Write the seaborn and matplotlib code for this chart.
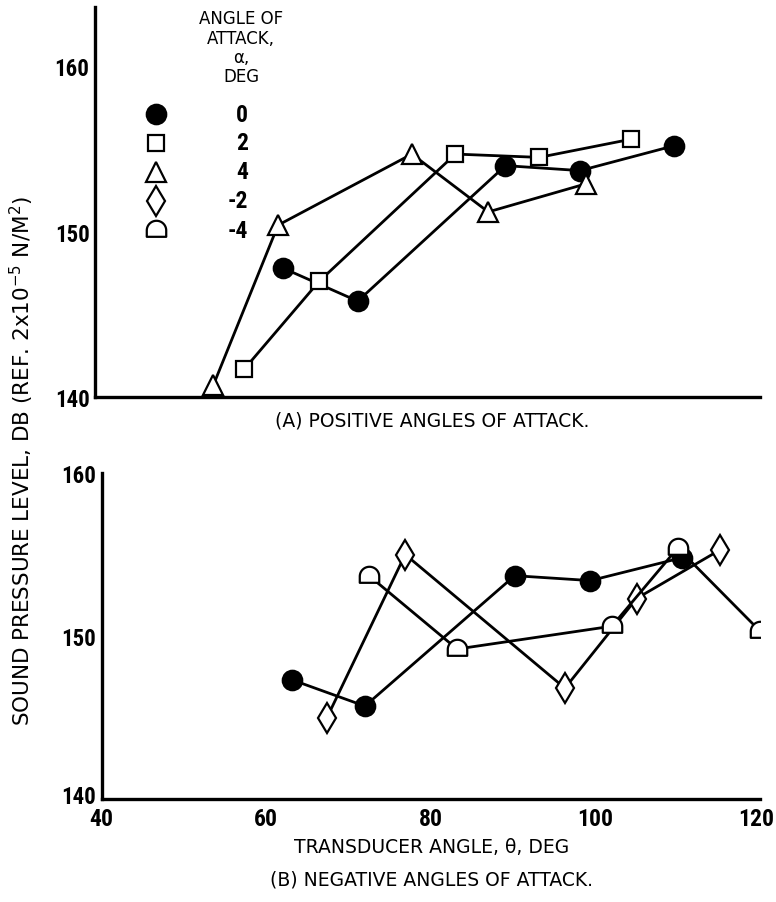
import numpy as np
import pandas as pd
import matplotlib
matplotlib.use("Agg")
import matplotlib.pyplot as plt
from matplotlib.path import Path
from matplotlib.transforms import ScaledTranslation
import seaborn as sns

# ---- data -------------------------------------------------------------
# (a) positive angles of attack
pos_a0_theta = [62.1, 71.2, 89.2, 98.3, 109.7]
pos_a0_spl = [147.8, 145.8, 154.0, 153.7, 155.2]
pos_a2_theta = [57.4, 66.5, 83.1, 93.3, 104.5]
pos_a2_spl = [141.7, 147.0, 154.7, 154.5, 155.6]
pos_a4_theta = [53.6, 61.5, 77.8, 87.1, 99.0]
pos_a4_spl = [140.7, 150.4, 154.7, 151.2, 152.9]

# (b) negative angles of attack
neg_a0_theta = [63.2, 72.0, 90.2, 99.4, 110.5]
neg_a0_spl = [147.3, 145.7, 153.7, 153.4, 154.8]
neg_am2_theta = [67.4, 76.9, 96.3, 105.0, 115.2]
neg_am2_spl = [145.0, 155.0, 146.8, 152.3, 155.3]
neg_am4_theta = [72.5, 83.2, 102.0, 110.0, 120.0]
neg_am4_spl = [153.7, 149.2, 150.6, 155.4, 150.3]

legend_labels = ["0", "2", "4", "-2", "-4"]
x_ticks = [40, 60, 80, 100, 120]
y_ticks = [140, 150, 160]

# ---- style ------------------------------------------------------------
sns.set_theme(style="white")
DIGITS = ["Roboto Condensed", "DejaVu Sans Condensed", "Roboto",
          "DejaVu Sans"]
WORDS = ["DejaVu Sans"]
plt.rcParams["font.family"] = DIGITS
plt.rcParams["font.weight"] = "bold"
plt.rcParams["mathtext.default"] = "regular"
for key in ["text.color", "axes.labelcolor", "xtick.color", "ytick.color",
            "xtick.labelcolor", "ytick.labelcolor"]:
    plt.rcParams[key] = "black"

W, H = 776, 903
fig = plt.figure(figsize=(W / 100, H / 100), dpi=100)


def fx(px):
    return px / W


def fy(py):
    return 1 - py / H


def shift(label, dx_px, dy_px):
    label.set_transform(label.get_transform() + ScaledTranslation(
        dx_px / 100, dy_px / 100, fig.dpi_scale_trans))


# dome marker: rounded top, flat bottom
t = np.linspace(0, np.pi, 40)
dome_verts = np.column_stack([np.cos(t), np.sin(t)]).tolist()
dome_verts += [[-1, -0.65], [1, -0.65], [1, 0]]
dome = Path(dome_verts, closed=True)

LW = 2.0
MEW = 1.6
styles = {
    "0": dict(marker="o", markersize=14, markerfacecolor="black"),
    "2": dict(marker="s", markersize=12, markerfacecolor="white"),
    "4": dict(marker="^", markersize=15, markerfacecolor="white"),
    "-2": dict(marker="d", markersize=15, markerfacecolor="white"),
    "-4": dict(marker=dome, markersize=14, markerfacecolor="white"),
}


def draw(ax, theta, spl, key):
    df = pd.DataFrame({"theta": theta, "spl": spl})
    sns.lineplot(data=df, x="theta", y="spl", ax=ax, sort=False,
                 estimator=None, color="black", linewidth=LW,
                 markeredgecolor="black", markeredgewidth=MEW,
                 **styles[key])


def style_axes(ax):
    for side in ["top", "right"]:
        ax.spines[side].set_visible(False)
    for side in ["left", "bottom"]:
        ax.spines[side].set_linewidth(2.4)
        ax.spines[side].set_color("black")
    ax.tick_params(axis="both", direction="in", width=2.2, color="black",
                   labelcolor="black")
    ax.tick_params(axis="y", length=21, labelsize=16.5, pad=4)
    ax.set_xlabel("")
    ax.set_ylabel("")
    ax.set_yticks(y_ticks)


# ---- top panel ---------------------------------------------------------
ax1 = fig.add_axes([fx(95), fy(398), fx(760) - fx(95), fy(8) - fy(398)])
draw(ax1, pos_a0_theta, pos_a0_spl, "0")
draw(ax1, pos_a2_theta, pos_a2_spl, "2")
draw(ax1, pos_a4_theta, pos_a4_spl, "4")
ax1.set_xlim(39.2, 120.2)
ax1.set_ylim(140, 163.6)
style_axes(ax1)
ax1.set_xticks([60, 80, 100, 120])
ax1.tick_params(axis="x", length=20, labelbottom=False)

# ---- bottom panel ------------------------------------------------------
ax2 = fig.add_axes([fx(101.5), fy(800), fx(760) - fx(101.5), fy(474) - fy(800)])
draw(ax2, neg_a0_theta, neg_a0_spl, "0")
draw(ax2, neg_am2_theta, neg_am2_spl, "-2")
draw(ax2, neg_am4_theta, neg_am4_spl, "-4")
ax2.set_xlim(40, 120)
ax2.set_ylim(140, 160)
style_axes(ax2)
ax2.set_xticks(x_ticks)
ax2.tick_params(axis="x", length=26, labelsize=17, pad=6)

# the lowest y label of the bottom panel sits just above the corner,
# and the last x label is kept inside the figure
shift(ax2.get_yticklabels()[0], 0, 5)
shift(ax2.get_xticklabels()[-1], -4, 0)

# ---- legend ------------------------------------------------------------
title_lines = ["ANGLE OF", "ATTACK,", "\u03b1,", "DEG"]
for i, line in enumerate(title_lines):
    fig.text(fx(241), fy(19 + i * 19.5), line, ha="center", va="center",
             fontsize=12, family=WORDS, weight="normal", color="black")

leg_keys = ["0", "2", "4", "-2", "-4"]
for i, (key, lab) in enumerate(zip(leg_keys, legend_labels)):
    yy = fy(115 + i * 29)
    ax1.plot([fx(156)], [yy], transform=fig.transFigure, clip_on=False,
             linestyle="none", color="black", markeredgecolor="black",
             markeredgewidth=MEW, **styles[key])
    fig.text(fx(248), yy, lab, ha="right", va="center", fontsize=17,
             color="black")

# ---- labels ------------------------------------------------------------
word_kw = dict(ha="center", va="center", family=WORDS, weight="normal",
               color="black")
fig.text(fx(432), fy(421), "(A) POSITIVE ANGLES OF ATTACK.",
         fontsize=13.5, **word_kw)
fig.text(fx(432), fy(848), "TRANSDUCER ANGLE, \u03b8, DEG",
         fontsize=13.5, **word_kw)
fig.text(fx(432), fy(880), "(B) NEGATIVE ANGLES OF ATTACK.",
         fontsize=13.5, **word_kw)
fig.text(fx(22), fy(461),
         "SOUND PRESSURE LEVEL, DB (REF. 2x10$^{-5}$ N/M$^{2}$)",
         rotation=90, fontsize=15.5, **word_kw)

fig.savefig("out.png", dpi=100, facecolor="white")
